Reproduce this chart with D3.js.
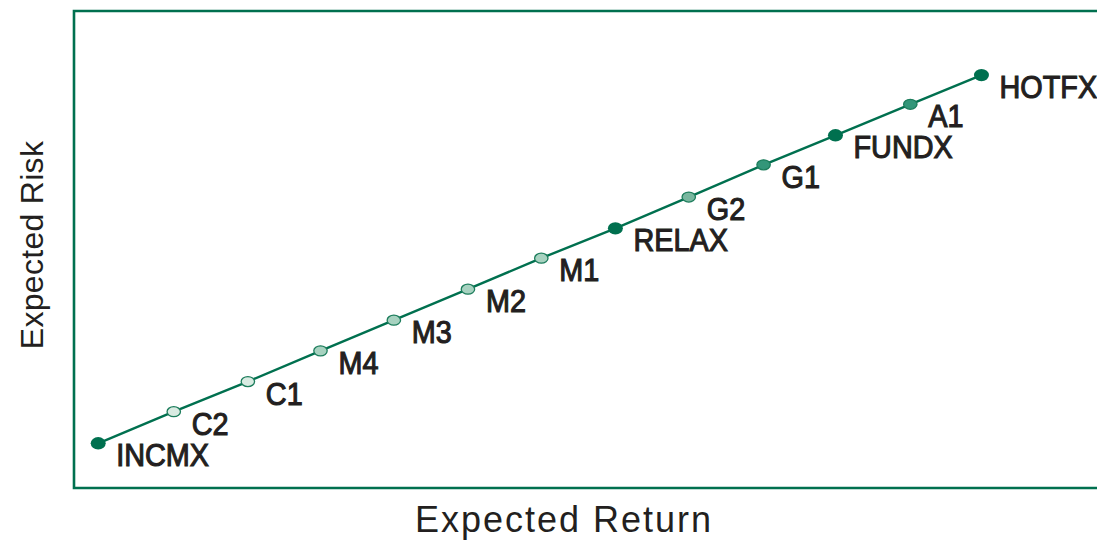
<!DOCTYPE html>
<html>
<head>
<meta charset="utf-8">
<script src="https://cdn.jsdelivr.net/npm/d3@7"></script>
<style>
  html, body { margin: 0; padding: 0; background: #ffffff; }
  svg { display: block; }
</style>
</head>
<body>
<svg id="chart" width="1097" height="540"></svg>
<script>
// Funds ordered along the risk/return line
const funds   = ["INCMX", "C2", "C1", "M4", "M3", "M2", "M1", "RELAX", "G2", "G1", "FUNDX", "A1", "HOTFX"];
const returns = [0.33, 1.36, 2.37, 3.36, 4.36, 5.37, 6.37, 7.38, 8.38, 9.40, 10.38, 11.40, 12.37];
const risks   = [1.50, 2.56, 3.57, 4.60, 5.63, 6.67, 7.71, 8.71, 9.76, 10.84, 11.83, 12.87, 13.85];
// Fill shade group for each fund: 0 = dark, 1 = pale, 2 = light, 3 = mid, 4 = strong
const shades  = [0, 1, 1, 2, 2, 2, 2, 0, 3, 4, 0, 4, 0];

const xTitle = "Expected Return";
const yTitle = "Expected Risk";

const green = "#00704f";
const fillColors = ["#00704f", "#d9ebe2", "#a7d2c0", "#79b79f", "#339679"];
const ink = "#231f20";
const font = "'Liberation Sans', Arial, sans-serif";

const svg = d3.select("#chart");
const box = { left: 74, top: 11, right: 1110, bottom: 488 };

const x = d3.scaleLinear().domain([0, 14]).range([box.left, box.left + 73.36 * 14]);
const y = d3.scaleLinear().domain([0, 16]).range([box.bottom, box.top]);

// Frame: top, left and bottom rules
svg.append("path")
  .attr("d", `M${box.right},${box.top} H${box.left} V${box.bottom} H${box.right}`)
  .attr("fill", "none")
  .attr("stroke", green)
  .attr("stroke-width", 2.6);

const data = funds.map((name, i) => ({ name, ret: returns[i], risk: risks[i], shade: shades[i] }));

// Connecting line
svg.append("path")
  .datum(data)
  .attr("fill", "none")
  .attr("stroke", green)
  .attr("stroke-width", 2.4)
  .attr("d", d3.line().x(d => x(d.ret)).y(d => y(d.risk)));

// Fund markers
svg.selectAll("ellipse.fund")
  .data(data)
  .enter().append("ellipse")
  .attr("class", "fund")
  .attr("cx", d => x(d.ret))
  .attr("cy", d => y(d.risk))
  .attr("rx", d => d.shade === 0 ? 7.5 : 6.7)
  .attr("ry", d => d.shade === 0 ? 6.2 : 5)
  .attr("fill", d => fillColors[d.shade])
  .attr("stroke", d => d.shade === 0 ? "none" : "#1d7d5c")
  .attr("stroke-width", 1.3);

// Fund labels (semibold look, slightly condensed)
svg.selectAll("text.fund")
  .data(data)
  .enter().append("text")
  .attr("class", "fund")
  .attr("transform", d => `translate(${x(d.ret) + 18},${y(d.risk) + 23}) scale(0.93,1)`)
  .attr("font-family", font)
  .attr("font-size", 31)
  .attr("fill", ink)
  .attr("stroke", ink)
  .attr("stroke-width", 1.1)
  .text(d => d.name);

// Axis titles
svg.append("text")
  .attr("x", 564)
  .attr("y", 532)
  .attr("text-anchor", "middle")
  .attr("font-family", font)
  .attr("font-size", 36)
  .attr("letter-spacing", 2)
  .attr("fill", ink)
  .text(xTitle);

svg.append("text")
  .attr("transform", "translate(43,245) rotate(-90)")
  .attr("text-anchor", "middle")
  .attr("font-family", font)
  .attr("font-size", 32)
  .attr("letter-spacing", 0.3)
  .attr("fill", ink)
  .text(yTitle);
</script>
</body>
</html>
